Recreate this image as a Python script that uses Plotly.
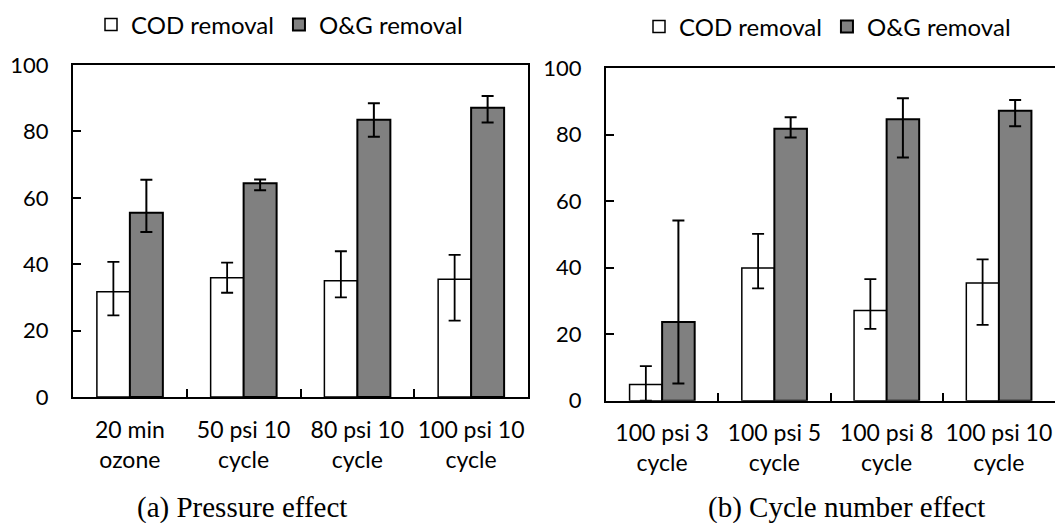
import plotly.graph_objects as go

# (a) Pressure effect
cats_a = ["20 min<br>ozone", "50 psi 10<br>cycle", "80 psi 10<br>cycle", "100 psi 10<br>cycle"]
cod_a = [31.7, 35.9, 35.0, 35.5]
cod_a_plus = [9.0, 4.6, 8.9, 7.3]
cod_a_minus = [7.1, 4.5, 5.0, 12.5]
og_a = [55.5, 64.4, 83.5, 87.1]
og_a_plus = [9.9, 1.1, 5.0, 3.6]
og_a_minus = [5.8, 2.1, 5.1, 4.4]

# (b) Cycle number effect
cats_b = ["100 psi 3<br>cycle", "100 psi 5<br>cycle", "100 psi 8<br>cycle", "100 psi 10<br>cycle"]
cod_b = [4.9, 39.9, 27.1, 35.4]
cod_b_plus = [5.5, 10.3, 9.5, 7.1]
cod_b_minus = [4.9, 6.1, 5.5, 12.6]
og_b = [23.7, 81.8, 84.7, 87.2]
og_b_plus = [30.5, 3.5, 6.3, 3.3]
og_b_minus = [18.5, 2.6, 11.5, 4.6]

W, H = 1055, 523
SANS = "Lato, Calibri, sans-serif"
SERIF = "Liberation Serif, Times New Roman, serif"


def err(plus, minus, thick):
    return dict(type="data", symmetric=False, array=plus, arrayminus=minus,
                color="black", thickness=thick, width=6)


fig = go.Figure()

panels = [
    ("x", "y", "legend", cats_a, cod_a, cod_a_plus, cod_a_minus, og_a, og_a_plus, og_a_minus),
    ("x2", "y2", "legend2", cats_b, cod_b, cod_b_plus, cod_b_minus, og_b, og_b_plus, og_b_minus),
]
for xa, ya, lg, cats, cod, cp, cm, og, op, om in panels:
    fig.add_trace(go.Bar(
        x=cats, y=cod, name="COD removal", xaxis=xa, yaxis=ya, legend=lg,
        marker=dict(color="white", line=dict(color="black", width=1.5)),
        error_y=err(cp, cm, 1.8),
    ))
    fig.add_trace(go.Bar(
        x=cats, y=og, name="O&G removal", xaxis=xa, yaxis=ya, legend=lg,
        marker=dict(color="#808080", line=dict(color="black", width=2)),
        error_y=err(op, om, 2),
    ))

common_x = dict(type="category", tickson="boundaries", ticks="inside", ticklen=8,
                tickwidth=2, tickcolor="black", showline=True, linewidth=2,
                linecolor="black", showgrid=False, automargin=False, tickangle=0,
                tickfont=dict(family=SANS, size=23, color="black"),
                ticklabelstandoff=11)
common_y = dict(range=[0, 100], dtick=20, ticks="inside", ticklen=8, tickwidth=2,
                tickcolor="black", showline=True, linewidth=2, linecolor="black",
                showgrid=False, zeroline=False, automargin=False,
                tickfont=dict(family=SANS, size=22, color="black"),
                ticklabelstandoff=18)

legend_common = dict(orientation="h", xanchor="left", yanchor="middle",
                     xref="container", yref="container",
                     font=dict(family=SANS, size=24, color="black"),
                     bgcolor="rgba(0,0,0,0)", itemclick=False)

fig.update_layout(
    width=W, height=H,
    margin=dict(l=0, r=0, t=0, b=0, autoexpand=False),
    paper_bgcolor="white", plot_bgcolor="white",
    barmode="group", bargap=0.42, bargroupgap=0,
    xaxis=dict(domain=[73 / W, 528 / W], anchor="y", mirror=True, **common_x),
    yaxis=dict(domain=[1 - 397 / H, 1 - 65 / H], anchor="x", mirror=True, **common_y),
    xaxis2=dict(domain=[606 / W, 1.0], anchor="y2", mirror=True, **common_x),
    yaxis2=dict(domain=[1 - 400.7 / H, 1 - 68.3 / H], anchor="x2", mirror=False, **common_y),
    legend=dict(x=91 / W, y=1 - 25 / H, **legend_common),
    legend2=dict(x=639 / W, y=1 - 27 / H, **legend_common),
    annotations=[
        dict(text="(a) Pressure effect", x=242 / W, y=1 - 507 / H, xref="paper", yref="paper",
             showarrow=False, xanchor="center", yanchor="middle",
             font=dict(family=SERIF, size=29, color="black")),
        dict(text="(b) Cycle number effect", x=846 / W, y=1 - 507 / H, xref="paper", yref="paper",
             showarrow=False, xanchor="center", yanchor="middle",
             font=dict(family=SERIF, size=29, color="black")),
    ],
)

fig.write_html("out.html")
